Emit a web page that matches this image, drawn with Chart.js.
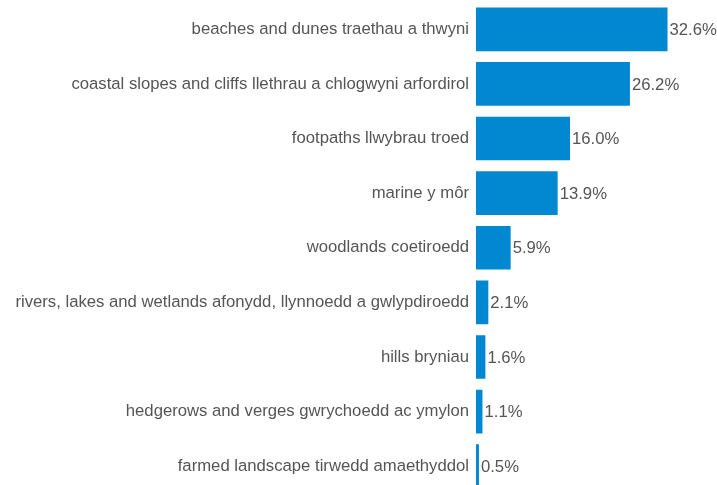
<!DOCTYPE html>
<html>
<head>
<meta charset="utf-8">
<script src="https://cdn.jsdelivr.net/npm/chart.js@4/dist/chart.umd.min.js"></script>
<style>
  html, body { margin: 0; padding: 0; background: #fff; overflow: hidden; }
  #wrap { position: relative; width: 717px; height: 496px; }
</style>
</head>
<body>
<div id="wrap"><canvas id="c"></canvas></div>
<script>
const categories = [
  "beaches and dunes traethau a thwyni",
  "coastal slopes and cliffs llethrau a chlogwyni arfordirol",
  "footpaths llwybrau troed",
  "marine y môr",
  "woodlands coetiroedd",
  "rivers, lakes and wetlands afonydd, llynnoedd a gwlypdiroedd",
  "hills bryniau",
  "hedgerows and verges gwrychoedd ac ymylon",
  "farmed landscape tirwedd amaethyddol"
];
const shares = [32.6, 26.2, 16.0, 13.9, 5.9, 2.1, 1.6, 1.1, 0.5];

const FONT = "'Liberation Sans', Arial, sans-serif";
const TEXT = "#555555";
const SIZE = 16.7;

// Writes each bar's percentage just past its end.
const valueLabels = {
  id: 'valueLabels',
  afterDatasetsDraw(chart) {
    const ctx = chart.ctx;
    const meta = chart.getDatasetMeta(0);
    ctx.save();
    ctx.font = SIZE + "px " + FONT;
    ctx.fillStyle = TEXT;
    ctx.textAlign = 'left';
    ctx.textBaseline = 'middle';
    meta.data.forEach((bar, i) => {
      ctx.fillText(shares[i].toFixed(1) + '%', bar.x + 2, bar.y + 1);
    });
    ctx.restore();
  }
};

new Chart(document.getElementById('c'), {
  type: 'bar',
  data: {
    labels: categories,
    datasets: [{
      data: shares,
      backgroundColor: '#0288d1',
      borderWidth: 0,
      categoryPercentage: 0.8,
      barPercentage: 1.0
    }]
  },
  options: {
    indexAxis: 'y',
    responsive: true,
    maintainAspectRatio: false,
    animation: false,
    layout: { padding: { top: 2, right: 6, bottom: 2.5, left: 0 } },
    plugins: { legend: { display: false }, tooltip: { enabled: false } },
    scales: {
      x: {
        min: 0,
        max: 40,
        display: false
      },
      y: {
        grid: { display: false, drawTicks: false },
        border: { display: false },
        ticks: {
          color: TEXT,
          font: { family: FONT, size: SIZE },
          padding: 7,
          autoSkip: false
        },
        afterFit(scale) {
          scale.width = 476;
          scale.paddingTop = 0;
          scale.paddingBottom = 0;
        }
      }
    }
  },
  plugins: [valueLabels]
});
</script>
</body>
</html>
